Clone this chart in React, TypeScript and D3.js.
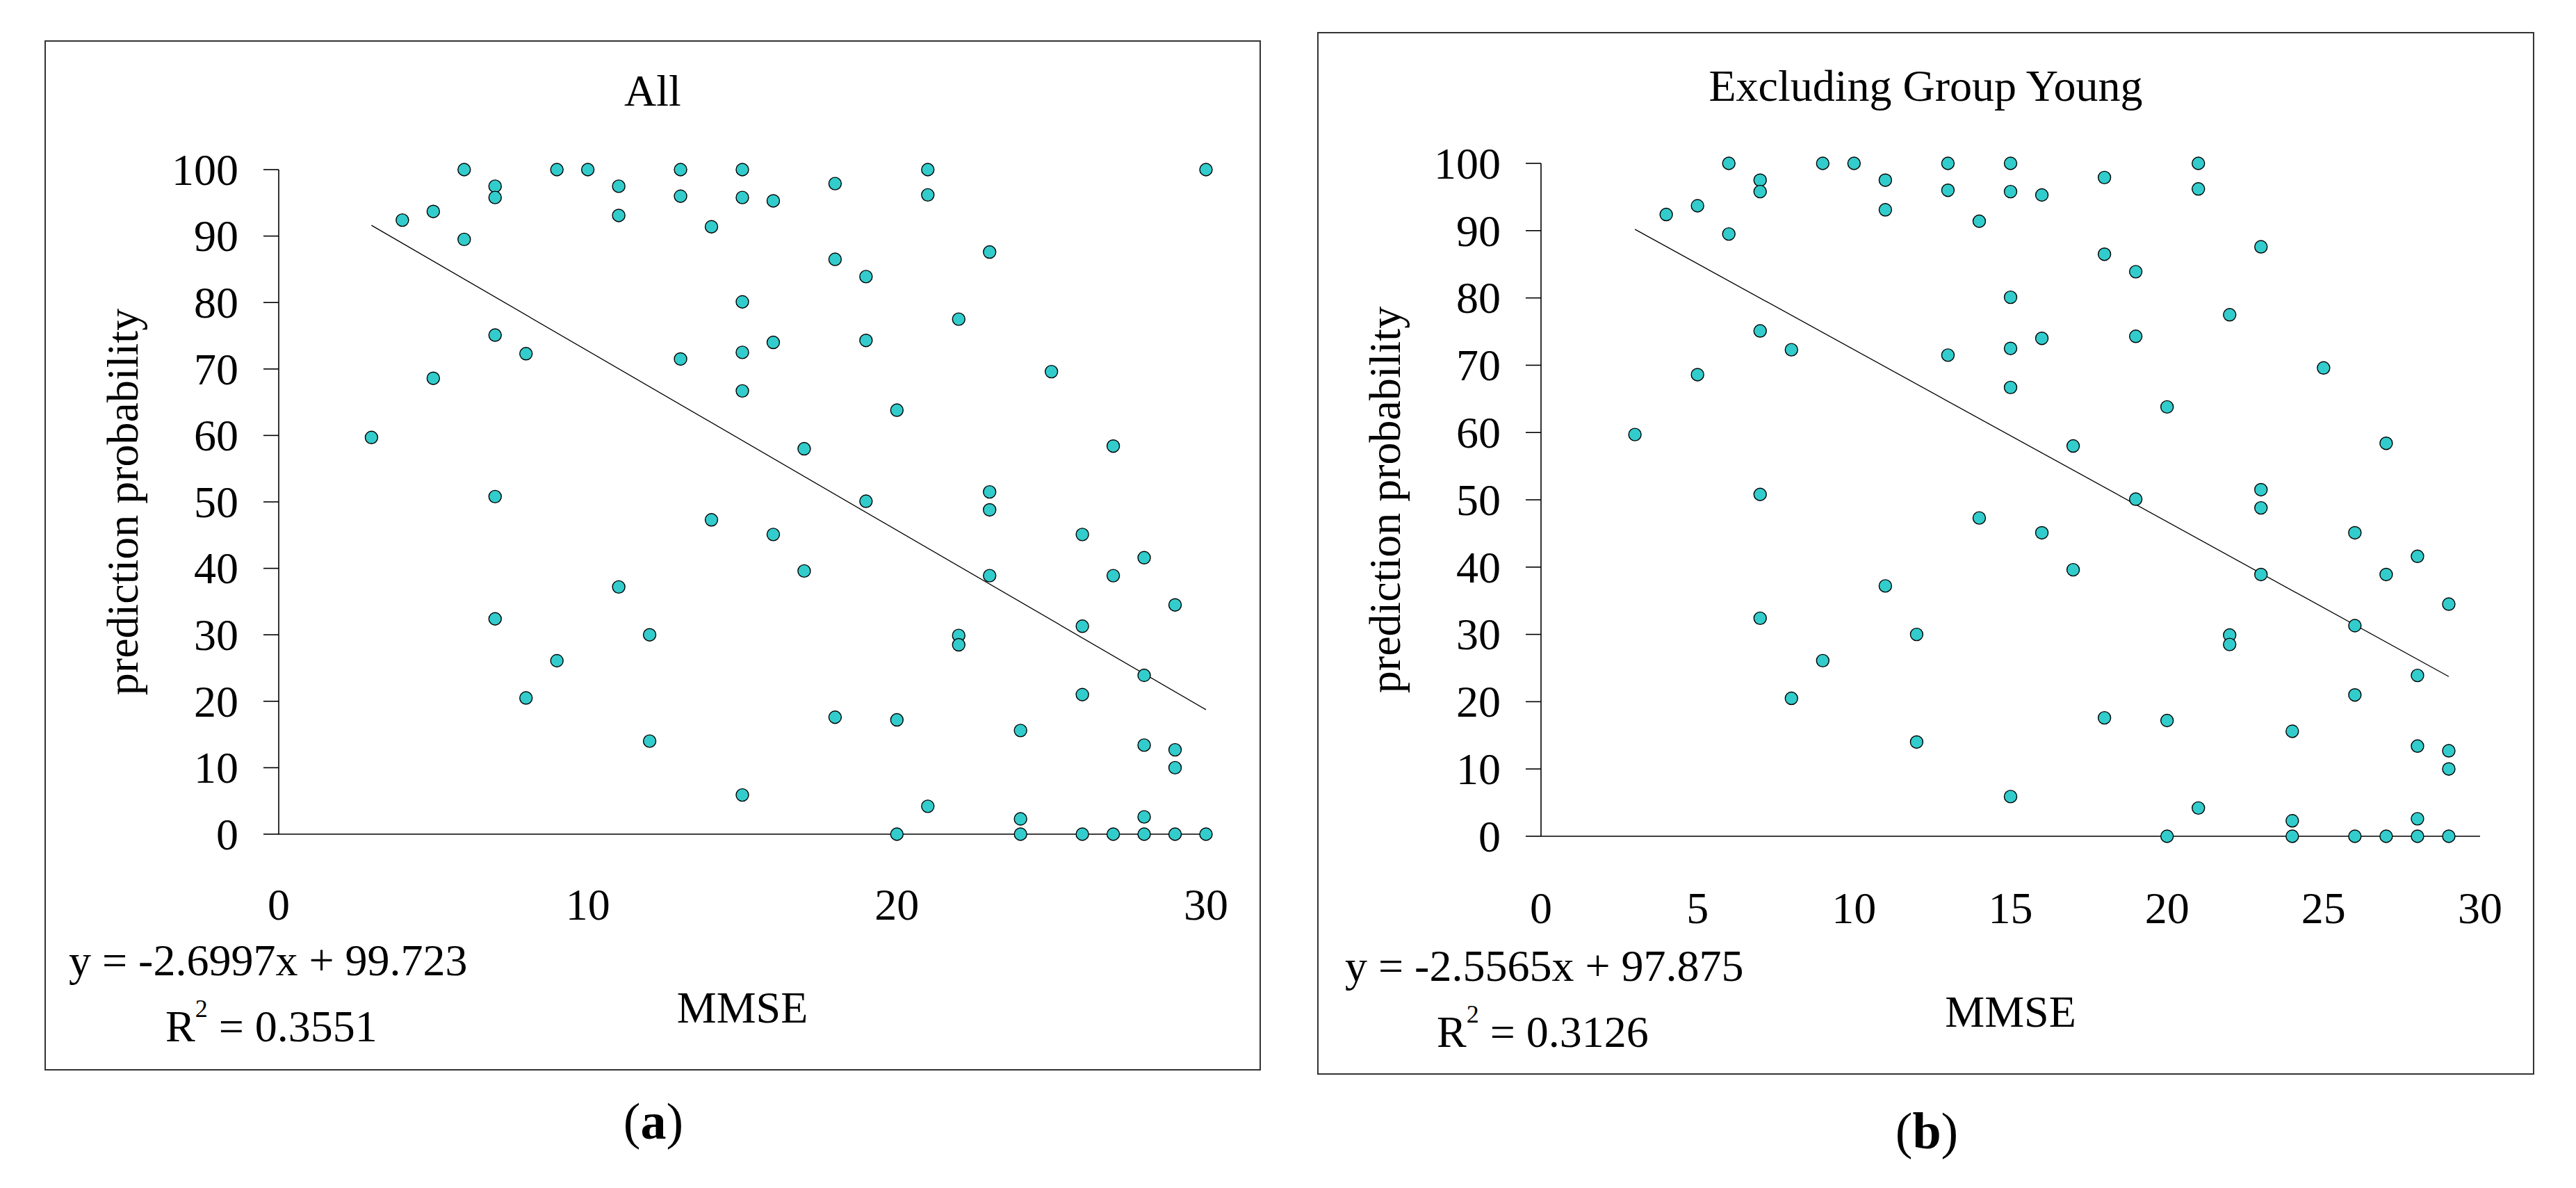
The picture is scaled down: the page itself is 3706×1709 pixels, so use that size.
import React from "react";
import * as d3 from "d3";

// ---- data ----
const MMSE = [3,4,5,5,6,6,7,7,7,7,7,8,8,9,9,10,11,11,11,12,12,13,13,13,14,14,15,15,15,15,15,15,16,16,16,17,17,18,18,18,19,19,19,20,20,20,21,21,21,22,22,22,23,23,23,23,24,24,24,25,26,26,26,26,27,27,27,28,28,28,28,28,29,29,29,29,30,30];
const PROB = [59.7,92.4,93.7,68.6,100,89.5,97.5,95.8,75.1,50.8,32.4,72.3,20.5,100,26.1,100,97.5,93.1,37.2,30.0,14.0,100,96.0,71.5,91.4,47.3,100,95.8,80.1,72.5,66.7,5.9,95.3,74.0,45.1,58.0,39.6,97.9,86.5,17.6,83.9,74.3,50.1,63.8,17.2,0,100,96.2,4.2,77.5,29.9,28.5,87.6,51.5,48.8,38.9,15.6,2.3,0,69.6,45.1,31.3,21.0,0,58.4,38.9,0,41.6,23.9,13.4,2.6,0,34.5,12.7,10.0,0,100,0];
const YOUNG_MMSE = [30]; // group excluded in panel (b)

const TITLES = ["All", "Excluding Group Young"];
const PANEL_LABELS = ["a", "b"];
const SLOPES = [-2.6997, -2.5565];
const INTERCEPTS = [99.723, 97.875];
const R2 = ["0.3551", "0.3126"];
const X_TICKS = [[0, 10, 20, 30], [0, 5, 10, 15, 20, 25, 30]];
const Y_TICKS = [0, 10, 20, 30, 40, 50, 60, 70, 80, 90, 100];
const X_LABEL = "MMSE";
const Y_LABEL = "prediction probability";

// ---- layout ----
const W = 3706, H = 1709;
const FONT = "'Liberation Serif', 'Times New Roman', serif";
const FS = 64;
const LAYOUT = [
  { frame: [65, 59, 1813, 1539], x0: 401, x1: 1735, yTop: 244, yBot: 1200,
    titleY: 152, eq: [99, 1403], r2: [238, 1498], xLabY: 1471, tickLabY: 1323, tagY: 1638, tagX: 940 },
  { frame: [1896, 47, 3645, 1545], x0: 2217, x1: 3568, yTop: 235, yBot: 1203,
    titleY: 145, eq: [1935, 1411], r2: [2067, 1506], xLabY: 1477, tickLabY: 1328, tagY: 1652, tagX: 2772 },
];

function Panel({ i }: { i: number }) {
  const L = LAYOUT[i];
  const pts = MMSE.map((m, k) => ({ m, p: PROB[k] })).filter(
    (d) => i === 0 || !YOUNG_MMSE.includes(d.m)
  );
  const x = d3.scaleLinear().domain([0, 30]).range([L.x0, L.x1]);
  const y = d3.scaleLinear().domain([0, 100]).range([L.yBot, L.yTop]);
  const [fx0, fy0, fx1, fy1] = L.frame;
  const xMin = d3.min(pts, (d) => d.m) as number;
  const xMax = d3.max(pts, (d) => d.m) as number;
  const line = d3.line<number>().x((v) => x(v)).y((v) => y(SLOPES[i] * v + INTERCEPTS[i]));
  const plotCx = (L.x0 + L.x1) / 2;
  const plotCy = (L.yTop + L.yBot) / 2;
  return (
    <g fontFamily={FONT} fill="#000">
      <rect x={fx0} y={fy0} width={fx1 - fx0} height={fy1 - fy0} fill="#fff" stroke="#333" strokeWidth={2} />
      <text x={(fx0 + fx1) / 2} y={L.titleY} fontSize={FS} textAnchor="middle">{TITLES[i]}</text>
      {/* y axis */}
      <line x1={L.x0} x2={L.x0} y1={y(100)} y2={y(0)} stroke="#000" strokeWidth={1.6} />
      {Y_TICKS.map((t) => (
        <g key={t}>
          <line x1={L.x0 - 22} x2={L.x0} y1={y(t)} y2={y(t)} stroke="#000" strokeWidth={1.6} />
          <text x={L.x0 - 58} y={y(t)} dy="0.34em" fontSize={FS} textAnchor="end">{t}</text>
        </g>
      ))}
      {/* x axis */}
      <line x1={L.x0} x2={x(30)} y1={y(0)} y2={y(0)} stroke="#000" strokeWidth={1.6} />
      {X_TICKS[i].map((t) => (
        <text key={t} x={x(t)} y={L.tickLabY} fontSize={FS} textAnchor="middle">{t}</text>
      ))}
      {/* trendline */}
      <path d={line([xMin, xMax]) || ""} fill="none" stroke="#000" strokeWidth={1.3} />
      {/* points */}
      {pts.map((d, k) => (
        <circle key={k} cx={x(d.m)} cy={y(d.p)} r={9} fill="#33CCCC" stroke="#000" strokeWidth={1.4} />
      ))}
      {/* labels */}
      <text transform={`translate(${L.x0 - 203},${plotCy}) rotate(-90)`} fontSize={FS} textAnchor="middle">{Y_LABEL}</text>
      <text x={plotCx} y={L.xLabY} fontSize={FS} textAnchor="middle">{X_LABEL}</text>
      <text x={L.eq[0]} y={L.eq[1]} fontSize={FS}>{`y = ${SLOPES[i]}x + ${INTERCEPTS[i]}`}</text>
      <text x={L.r2[0]} y={L.r2[1]} fontSize={FS}>
        <tspan>R</tspan>
        <tspan dy={-35} fontSize={36}>2</tspan>
        <tspan dy={35}>{` = ${R2[i]}`}</tspan>
      </text>
      <text x={L.tagX} y={L.tagY} fontSize={74} textAnchor="middle">
        <tspan>(</tspan><tspan fontWeight="bold">{PANEL_LABELS[i]}</tspan><tspan>)</tspan>
      </text>
    </g>
  );
}

export default function App() {
  return (
    <svg width={W} height={H} viewBox={`0 0 ${W} ${H}`} style={{ position: "absolute", left: 0, top: 0, background: "#fff" }}>
      <rect x={0} y={0} width={W} height={H} fill="#fff" />
      <Panel i={0} />
      <Panel i={1} />
    </svg>
  );
}
